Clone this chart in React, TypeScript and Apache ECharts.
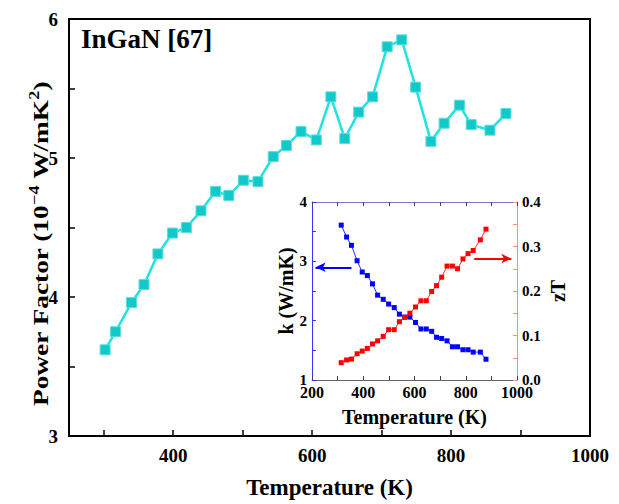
import React, { useEffect, useRef } from "react";
import * as echarts from "echarts";

// Power factor of InGaN versus temperature
const pfTemp = [302, 317, 340, 358, 378, 399, 419, 440, 461, 480, 501, 522, 544, 563, 584, 606, 627, 647, 667, 687, 708, 729, 749, 771, 790, 812, 829, 856, 879];
const pfValues = [3.62, 3.75, 3.96, 4.09, 4.31, 4.46, 4.5, 4.62, 4.76, 4.73, 4.84, 4.83, 5.01, 5.09, 5.19, 5.13, 5.44, 5.14, 5.33, 5.44, 5.8, 5.85, 5.51, 5.12, 5.25, 5.38, 5.24, 5.2, 5.32];

// Inset: thermal conductivity and zT
const insetTemp = [314, 335, 354, 376, 396, 416, 436, 456, 478, 499, 521, 541, 562, 582, 604, 625, 646, 667, 686, 706, 727, 748, 768, 789, 809, 829, 857, 879];
const kappaValues = [3.61, 3.41, 3.27, 3.01, 2.82, 2.76, 2.62, 2.43, 2.36, 2.28, 2.22, 2.11, 2.06, 2.06, 1.97, 1.86, 1.86, 1.82, 1.72, 1.7, 1.66, 1.56, 1.56, 1.51, 1.51, 1.47, 1.47, 1.35];
const ztValues = [0.039, 0.045, 0.047, 0.059, 0.065, 0.071, 0.081, 0.088, 0.098, 0.113, 0.113, 0.131, 0.141, 0.15, 0.164, 0.178, 0.178, 0.199, 0.212, 0.231, 0.256, 0.256, 0.25, 0.272, 0.284, 0.291, 0.315, 0.339];

const mainTickValues = [300, 400, 500, 600, 700, 800, 900, 1000];
const mainLabelValues = [400, 600, 800, 1000];

// Arrow annotations pointing to each inset axis
const kArrow = [[354, 2.9], [214, 2.9]];
const ztArrow = [[833, 0.273], [978, 0.273]];

const FONT = "'Liberation Serif', 'Times New Roman', serif";

const pairs = (xs: number[], ys: number[]) => xs.map((x, i) => [x, ys[i]]);

export default function App() {
  const ref = useRef<HTMLDivElement>(null);

  useEffect(() => {
    if (!ref.current) return;
    const chart = echarts.init(ref.current, null, { renderer: "svg" });

    const boldLabel = (size: number) => ({
      fontFamily: FONT,
      fontWeight: "bold" as const,
      fontSize: size,
      color: "#000",
    });

    chart.setOption({
      animation: false,
      backgroundColor: "#fff",
      grid: [
        { left: 69, top: 19, width: 521, height: 418, show: true, borderColor: "#000", borderWidth: 2, backgroundColor: "transparent" },
        { left: 312, top: 202, width: 205, height: 178 },
      ],
      xAxis: [
        {
          gridIndex: 0,
          type: "value",
          min: 250,
          max: 1000,
          name: "Temperature (K)",
          nameLocation: "middle",
          nameGap: 40,
          nameTextStyle: boldLabel(23),
          axisLine: { lineStyle: { color: "#000", width: 2 } },
          axisTick: { inside: true, length: 6, customValues: mainTickValues, lineStyle: { color: "#000", width: 1.5 } },
          axisLabel: {
            customValues: mainLabelValues,
            margin: 10,
            ...boldLabel(19),
            formatter: (v: number) => String(v),
          },
          splitLine: { show: false },
        },
        {
          gridIndex: 1,
          type: "value",
          min: 200,
          max: 1000,
          interval: 100,
          name: "Temperature (K)",
          nameLocation: "middle",
          nameGap: 27,
          nameTextStyle: boldLabel(20),
          axisLine: { lineStyle: { color: "#666", width: 1 } },
          axisTick: { inside: true, length: 4, lineStyle: { color: "#444" } },
          axisLabel: {
            margin: 4,
            ...boldLabel(16),
            formatter: (v: number) => (v % 200 === 0 ? String(v) : ""),
          },
          splitLine: { show: false },
        },
        {
          gridIndex: 1,
          type: "value",
          position: "top",
          min: 200,
          max: 1000,
          interval: 100,
          axisLine: { lineStyle: { color: "#7777cc", width: 1 } },
          axisTick: { inside: true, length: 4, lineStyle: { color: "#444" } },
          axisLabel: { show: false },
          splitLine: { show: false },
        },
      ],
      yAxis: [
        {
          gridIndex: 0,
          type: "value",
          min: 3,
          max: 6,
          interval: 0.5,
          axisLine: { show: true, lineStyle: { color: "#000", width: 2 } },
          axisTick: { show: true, inside: true, length: 6, lineStyle: { color: "#000", width: 1.5 } },
          axisLabel: {
            margin: 11,
            ...boldLabel(19),
            formatter: (v: number) => (Number.isInteger(v) ? String(v) : ""),
          },
          splitLine: { show: false },
        },
        {
          gridIndex: 1,
          type: "value",
          min: 1,
          max: 4,
          interval: 0.5,
          name: "k (W/mK)",
          nameLocation: "middle",
          nameGap: 16,
          nameRotate: 90,
          nameTextStyle: boldLabel(20),
          axisLine: { show: true, lineStyle: { color: "#3333ff", width: 1 } },
          axisTick: { show: true, inside: true, length: 4, lineStyle: { color: "#3333ff" } },
          axisLabel: {
            margin: 5,
            ...boldLabel(15),
            formatter: (v: number) => (Number.isInteger(v) ? String(v) : ""),
          },
          splitLine: { show: false },
        },
        {
          gridIndex: 1,
          type: "value",
          position: "right",
          min: 0,
          max: 0.4,
          interval: 0.05,
          name: "zT",
          nameLocation: "middle",
          nameGap: 31,
          nameRotate: 90,
          nameTextStyle: boldLabel(20),
          axisLine: { show: true, lineStyle: { color: "#ff8c8c", width: 1 } },
          axisTick: { show: true, inside: true, length: 4, lineStyle: { color: "#ff8c8c" } },
          axisLabel: {
            margin: 5,
            ...boldLabel(15),
            formatter: (v: number) =>
              Math.abs(v * 10 - Math.round(v * 10)) < 1e-6 ? v.toFixed(1) : "",
          },
          splitLine: { show: false },
        },
      ],
      graphic: [
        {
          type: "text",
          left: 81,
          top: 25,
          style: { text: "InGaN [67]", font: `bold 27px ${FONT}`, fill: "#000" },
        },
        {
          type: "text",
          x: 41,
          y: 244,
          rotation: Math.PI / 2,
          scaleX: 1.3,
          style: {
            text: "Power Factor (10{sup|−4} W/mK{sup|2})",
            font: `bold 21px ${FONT}`,
            fill: "#000",
            align: "center",
            verticalAlign: "middle",
            lineHeight: 26,
            rich: {
              sup: { font: `bold 14px ${FONT}`, fill: "#000", verticalAlign: "top", lineHeight: 26 },
            },
          },
        },
      ],
      series: [
        {
          type: "line",
          xAxisIndex: 0,
          yAxisIndex: 0,
          data: pairs(pfTemp, pfValues),
          symbol: "rect",
          symbolSize: 10,
          lineStyle: { color: "#1de3e3", width: 2.5 },
          itemStyle: { color: "#12c9c9", borderColor: "#5cdede", borderWidth: 1 },
        },
        {
          type: "line",
          xAxisIndex: 1,
          yAxisIndex: 1,
          data: pairs(insetTemp, kappaValues),
          symbol: "rect",
          symbolSize: 5,
          lineStyle: { color: "#2a2aff", width: 1 },
          itemStyle: { color: "#0000ff" },
          markLine: {
            silent: true,
            symbol: ["none", "arrow"],
            symbolSize: [7, 10],
            label: { show: false },
            lineStyle: { color: "#0000ff", width: 2, type: "solid" },
            data: [[{ coord: kArrow[0] }, { coord: kArrow[1] }]],
          },
        },
        {
          type: "line",
          xAxisIndex: 1,
          yAxisIndex: 2,
          data: pairs(insetTemp, ztValues),
          symbol: "rect",
          symbolSize: 5,
          lineStyle: { color: "#ff2a2a", width: 1 },
          itemStyle: { color: "#ff0000" },
          markLine: {
            silent: true,
            symbol: ["none", "arrow"],
            symbolSize: [7, 10],
            label: { show: false },
            lineStyle: { color: "#ff0000", width: 2, type: "solid" },
            data: [[{ coord: ztArrow[0] }, { coord: ztArrow[1] }]],
          },
        },
      ],
    });

    return () => chart.dispose();
  }, []);

  return (
    <div
      ref={ref}
      style={{ position: "fixed", left: 0, top: 0, width: 619, height: 504 }}
    />
  );
}
